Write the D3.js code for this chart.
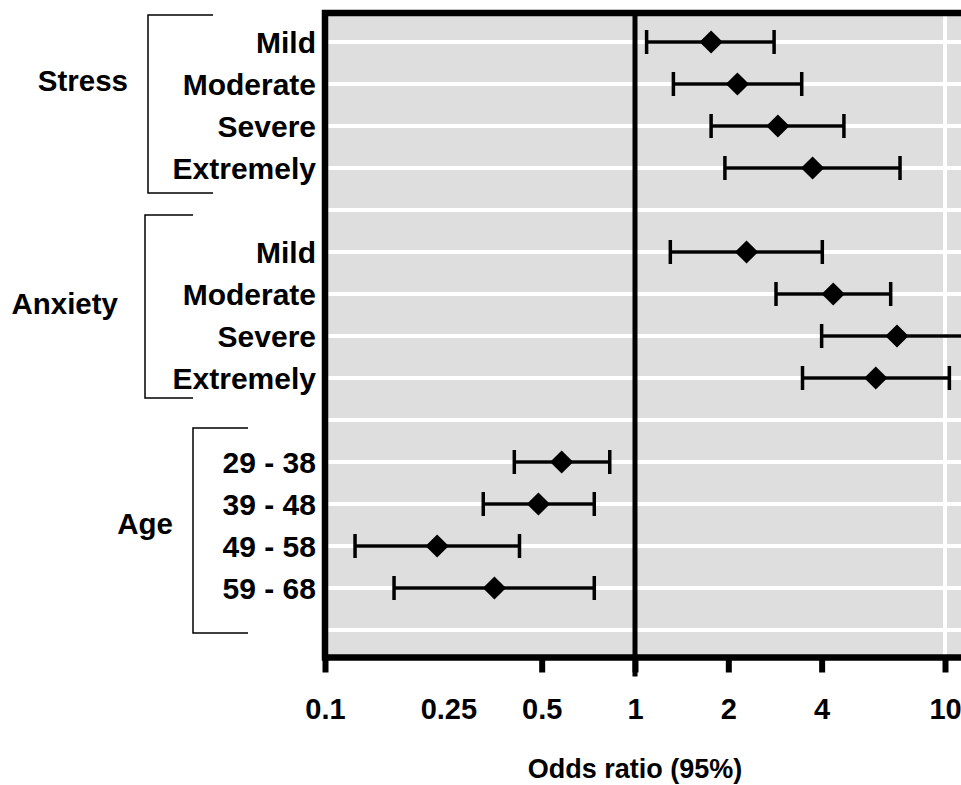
<!DOCTYPE html>
<html>
<head>
<meta charset="utf-8">
<script src="https://cdn.jsdelivr.net/npm/d3@7"></script>
<style>
  body { margin: 0; background: #fff; }
  svg text { font-family: "Liberation Sans", Arial, sans-serif; font-weight: bold; fill: #000; }
</style>
</head>
<body>
<div id="chart"></div>
<script>
// data
const groupNames = ["Stress", "Anxiety", "Age"];
const rowLabels = [
  ["Mild", "Moderate", "Severe", "Extremely"],
  ["Mild", "Moderate", "Severe", "Extremely"],
  ["29 - 38", "39 - 48", "49 - 58", "59 - 68"]
];
const estimates = [
  [1.76, 2.14, 2.89, 3.74],
  [2.29, 4.36, 7.0, 5.98],
  [0.58, 0.488, 0.23, 0.352]
];
const lowerCI = [
  [1.09, 1.33, 1.76, 1.95],
  [1.30, 2.85, 4.0, 3.47],
  [0.408, 0.324, 0.125, 0.167]
];
const upperCI = [
  [2.81, 3.45, 4.72, 7.16],
  [4.02, 6.68, 13.0, 10.33],
  [0.829, 0.739, 0.424, 0.739]
];
const tickValues = [0.1, 0.25, 0.5, 1, 2, 4, 10];
const tickLabels = ["0.1", "0.25", "0.5", "1", "2", "4", "10"];
const xTitle = "Odds ratio (95%)";

var W = 961, H = 785;
var plot = {left: 325, right: 961, top: 13, bottom: 657.5};

// each group takes 4 rows + 1 empty slot
var rows = [];
groupNames.forEach(function(g, gi) {
  rowLabels[gi].forEach(function(lab, ri) {
    rows.push({group: g, label: lab, slot: gi * 5 + ri,
      est: estimates[gi][ri], lo: lowerCI[gi][ri], hi: upperCI[gi][ri]});
  });
});
var slots = d3.range(groupNames.length * 5);

var x = d3.scaleLog().domain([0.1, 10]).range([325, 945]);
var y = d3.scaleLinear().domain([0, 14]).range([42, 630]);

var svg = d3.select("#chart").append("svg")
  .attr("width", W).attr("height", H);

svg.append("clipPath").attr("id", "clip")
  .append("rect")
  .attr("x", plot.left).attr("y", plot.top)
  .attr("width", plot.right - plot.left).attr("height", plot.bottom - plot.top);

// background
svg.append("rect")
  .attr("x", plot.left).attr("y", plot.top)
  .attr("width", plot.right - plot.left).attr("height", plot.bottom - plot.top)
  .attr("fill", "#dedede");

// white grid lines
svg.selectAll(".hgrid").data(slots).enter().append("line")
  .attr("class", "hgrid")
  .attr("x1", plot.left).attr("x2", plot.right)
  .attr("y1", function(d) { return y(d); })
  .attr("y2", function(d) { return y(d); })
  .attr("stroke", "#fff").attr("stroke-width", 4);

svg.append("line")
  .attr("x1", x(10)).attr("x2", x(10))
  .attr("y1", plot.top).attr("y2", plot.bottom)
  .attr("stroke", "#fff").attr("stroke-width", 4);

// x axis
var xAxis = d3.axisBottom(x)
  .tickValues(tickValues)
  .tickFormat(function(d, i) { return tickLabels[i]; })
  .tickSizeInner(15).tickSizeOuter(0).tickPadding(26);

var gx = svg.append("g")
  .attr("transform", "translate(0," + plot.bottom + ")")
  .call(xAxis);
gx.select(".domain").remove();
gx.selectAll(".tick line")
  .attr("stroke", "#000").attr("stroke-width", 6)
  .attr("display", function(d) { return d == 0.25 ? "none" : null; });
gx.selectAll(".tick text")
  .style("font-size", "29px");

// reference line at 1
svg.append("line")
  .attr("x1", x(1)).attr("x2", x(1))
  .attr("y1", plot.top).attr("y2", plot.bottom + 19)
  .attr("stroke", "#000").attr("stroke-width", 5);

// frame
svg.append("path")
  .attr("d", "M" + plot.right + "," + plot.top + "H" + plot.left + "V" + plot.bottom + "H" + plot.right)
  .attr("fill", "none").attr("stroke", "#000").attr("stroke-width", 6.5)
  .attr("stroke-linejoin", "miter");

// error bars
var bars = svg.append("g").attr("clip-path", "url(#clip)");
var capH = 12;

bars.selectAll(".ci").data(rows).enter().append("line")
  .attr("class", "ci")
  .attr("x1", function(d) { return x(d.lo); })
  .attr("x2", function(d) { return x(d.hi); })
  .attr("y1", function(d) { return y(d.slot); })
  .attr("y2", function(d) { return y(d.slot); })
  .attr("stroke", "#000").attr("stroke-width", 3.5);

bars.selectAll(".capLo").data(rows).enter().append("line")
  .attr("class", "capLo")
  .attr("x1", function(d) { return x(d.lo); })
  .attr("x2", function(d) { return x(d.lo); })
  .attr("y1", function(d) { return y(d.slot) - capH; })
  .attr("y2", function(d) { return y(d.slot) + capH; })
  .attr("stroke", "#000").attr("stroke-width", 3.5);

bars.selectAll(".capHi").data(rows).enter().append("line")
  .attr("class", "capHi")
  .attr("x1", function(d) { return x(d.hi); })
  .attr("x2", function(d) { return x(d.hi); })
  .attr("y1", function(d) { return y(d.slot) - capH; })
  .attr("y2", function(d) { return y(d.slot) + capH; })
  .attr("stroke", "#000").attr("stroke-width", 3.5);

bars.selectAll(".pt").data(rows).enter().append("path")
  .attr("class", "pt")
  .attr("d", d3.symbol(d3.symbolSquare, 270))
  .attr("transform", function(d) {
    return "translate(" + x(d.est) + "," + y(d.slot) + ") rotate(45)";
  })
  .attr("fill", "#000");

// row labels
svg.selectAll(".rowLab").data(rows).enter().append("text")
  .attr("class", "rowLab")
  .attr("x", 316)
  .attr("y", function(d) { return y(d.slot) + 11; })
  .attr("text-anchor", "end")
  .style("font-size", "30px")
  .text(function(d) { return d.label; });

// group brackets and titles (layout only)
var brackets = [
  {x: 148, top: 15, bottom: 193, end: 213, tx: 128, ty: 91},
  {x: 145, top: 215, bottom: 398, end: 193, tx: 118, ty: 314},
  {x: 193, top: 428, bottom: 633, end: 248, tx: 173, ty: 534}
];
svg.selectAll(".bracket").data(brackets).enter().append("path")
  .attr("class", "bracket")
  .attr("d", function(b) {
    return "M" + b.end + "," + b.top + "H" + b.x + "V" + b.bottom + "H" + b.end;
  })
  .attr("fill", "none").attr("stroke", "#000").attr("stroke-width", 1.5);

svg.selectAll(".grpLab").data(brackets).enter().append("text")
  .attr("class", "grpLab")
  .attr("x", function(b) { return b.tx; })
  .attr("y", function(b) { return b.ty; })
  .attr("text-anchor", "end")
  .style("font-size", "29.5px")
  .text(function(b, i) { return groupNames[i]; });

// axis title
svg.append("text")
  .attr("x", x(1))
  .attr("y", 778)
  .attr("text-anchor", "middle")
  .style("font-size", "27px")
  .text(xTitle);
</script>
</body>
</html>
